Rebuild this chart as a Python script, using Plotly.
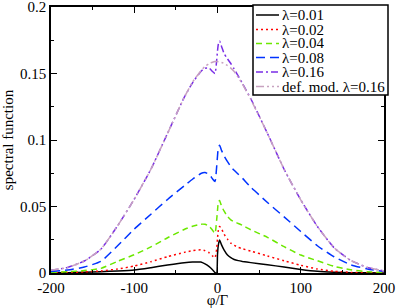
import plotly.graph_objects as go

# ---- data ----
phi = [-200, -180, -160, -140, -120, -100, -80, -60, -40, -30, -20, -15, -10, -6, -3, -1, 0, 1, 2.5,
       5, 8, 12, 16, 20, 25, 30, 40, 60, 80, 100, 120, 140, 160, 180, 200]

lam_001 = [0.0001, 0.0002, 0.0005, 0.0010, 0.0015, 0.0022, 0.0040, 0.0060, 0.0078, 0.0083, 0.0082, 0.0068,
           0.0048, 0.0025, 0.0003, 0.0, 0.0140, 0.0210, 0.0248, 0.0210, 0.0172, 0.0135, 0.0115, 0.0102,
           0.0093, 0.0087, 0.0078, 0.0062, 0.0045, 0.0027, 0.0013, 0.0006, 0.0002, 0.0001, 0.0]
lam_002 = [0.0002, 0.0004, 0.0008, 0.0015, 0.0030, 0.0052, 0.0085, 0.0123, 0.0155, 0.0168, 0.0174, 0.0168,
           0.0152, 0.0128, 0.0115, 0.0180, 0.0260, 0.0320, 0.0350, 0.0330, 0.0290, 0.0255, 0.0225, 0.0208,
           0.0193, 0.0182, 0.0165, 0.0128, 0.0092, 0.0058, 0.0030, 0.0013, 0.0005, 0.0002, 0.0001]
lam_004 = [0.0004, 0.0009, 0.0018, 0.0035, 0.0088, 0.0138, 0.0196, 0.0265, 0.0327, 0.0352, 0.0367, 0.0366,
           0.0352, 0.0322, 0.0298, 0.0400, 0.0470, 0.0530, 0.0545, 0.0500, 0.0465, 0.0425, 0.0400, 0.0385,
           0.0372, 0.0358, 0.0325, 0.0268, 0.0198, 0.0135, 0.0092, 0.0050, 0.0024, 0.0010, 0.0004]
lam_008 = [0.0012, 0.0022, 0.0045, 0.0088, 0.0205, 0.0330, 0.0442, 0.0553, 0.0655, 0.0705, 0.0748, 0.0755,
           0.0742, 0.0708, 0.0688, 0.0800, 0.0880, 0.0940, 0.0960, 0.0920, 0.0880, 0.0838, 0.0800, 0.0772,
           0.0742, 0.0712, 0.0645, 0.0530, 0.0422, 0.0312, 0.0205, 0.0122, 0.0062, 0.0030, 0.0012]
lam_016 = [0.0020, 0.0042, 0.0090, 0.0180, 0.0355, 0.0555, 0.0780, 0.1050, 0.1320, 0.1430, 0.1515, 0.1540,
           0.1540, 0.1515, 0.1500, 0.1600, 0.1670, 0.1720, 0.1745, 0.1700, 0.1650, 0.1610, 0.1575, 0.1535,
           0.1480, 0.1425, 0.1310, 0.1050, 0.0780, 0.0550, 0.0350, 0.0190, 0.0095, 0.0042, 0.0015]
defmod_016 = [0.0020, 0.0042, 0.0090, 0.0180, 0.0355, 0.0555, 0.0780, 0.1050, 0.1320, 0.1435, 0.1520, 0.1553,
              0.1575, 0.1585, 0.1590, 0.1590, 0.1590, 0.1589, 0.1587, 0.1583, 0.1575, 0.1560, 0.1540, 0.1515,
              0.1470, 0.1420, 0.1305, 0.1050, 0.0780, 0.0550, 0.0350, 0.0190, 0.0095, 0.0042, 0.0015]

names = ["λ=0.01", "λ=0.02", "λ=0.04", "λ=0.08", "λ=0.16", "def. mod. λ=0.16"]
series = [lam_001, lam_002, lam_004, lam_008, lam_016, defmod_016]
colors = ["#000000", "#ff0000", "#6ce800", "#0033ff", "#7a2ee6", "#c8a2c0"]
dashes = ["solid", "2px,3px", "6px,4px", "9px,5px", "7px,3px,2px,3px", "8px,3px,2px,3px,2px,3px"]

x_tickvals = [-200, -100, 0, 100, 200]
x_ticktext = ["-200", "-100", "0", "100", "200"]
y_tickvals = [0, 0.05, 0.1, 0.15, 0.2]
y_ticktext = ["0", "0.05", "0.1", "0.15", "0.2"]

FONT = "Liberation Serif, Times New Roman, Times, serif"

fig = go.Figure()
for name, ys, c, d in zip(names, series, colors, dashes):
    fig.add_trace(go.Scatter(x=phi, y=ys, mode="lines", name=name, showlegend=False,
                             line=dict(color=c, width=1.5, dash=d, shape="spline", smoothing=0.5)))

axis_common = dict(showline=True, linecolor="black", linewidth=1.5, mirror="ticks",
                   ticks="inside", ticklen=6, tickwidth=1.2, tickcolor="black",
                   showgrid=False, zeroline=False, automargin=False,
                   ticklabeloverflow="allow",
                   tickfont=dict(family=FONT, size=15, color="black"))

fig.update_xaxes(range=[-200, 200], tickvals=x_tickvals, ticktext=x_ticktext,
                 minor=dict(ticks="inside", ticklen=3, dtick=50, tickcolor="black", tickwidth=1.2),
                 title=dict(text="φ/Γ", font=dict(family=FONT, size=15, color="black"), standoff=4),
                 **axis_common)
fig.update_yaxes(range=[0, 0.2], tickvals=y_tickvals, ticktext=y_ticktext,
                 minor=dict(ticks="inside", ticklen=3, dtick=0.025, tickcolor="black", tickwidth=1.2),
                 title=dict(text="spectral function", font=dict(family=FONT, size=15, color="black"), standoff=6),
                 **axis_common)

# ---- legend box drawn in paper coordinates ----
L = 51; T = 7; W = 333; H = 266
def px2paper_x(px):
    return (px - L) / W
def px2paper_y(py):
    return (T + H - py) / H

shapes = [dict(type="rect", xref="paper", yref="paper",
               x0=px2paper_x(253), x1=px2paper_x(388), y0=px2paper_y(95), y1=px2paper_y(5),
               line=dict(color="black", width=1.5), fillcolor="white", layer="above")]
annotations = []
row_y = [15, 29.5, 43.5, 57.5, 72, 86.5]
for name, c, d, ry in zip(names, colors, dashes, row_y):
    shapes.append(dict(type="line", xref="paper", yref="paper",
                       x0=px2paper_x(256), x1=px2paper_x(279), y0=px2paper_y(ry), y1=px2paper_y(ry),
                       line=dict(color=c, width=1.5, dash=d), layer="above"))
    annotations.append(dict(xref="paper", yref="paper", x=px2paper_x(281), y=px2paper_y(ry),
                            text=name, showarrow=False, xanchor="left", yanchor="middle",
                            height=14, borderpad=0,
                            font=dict(family=FONT, size=15, color="black")))

fig.update_layout(width=399, height=308,
                  margin=dict(l=L, r=399 - L - W, t=T, b=308 - T - H, pad=0, autoexpand=False),
                  paper_bgcolor="white", plot_bgcolor="white",
                  shapes=shapes, annotations=annotations, showlegend=False)

fig.write_html("out.html", config={"displayModeBar": False},
               post_script="document.body.style.margin='0px';document.body.style.padding='0px';")
